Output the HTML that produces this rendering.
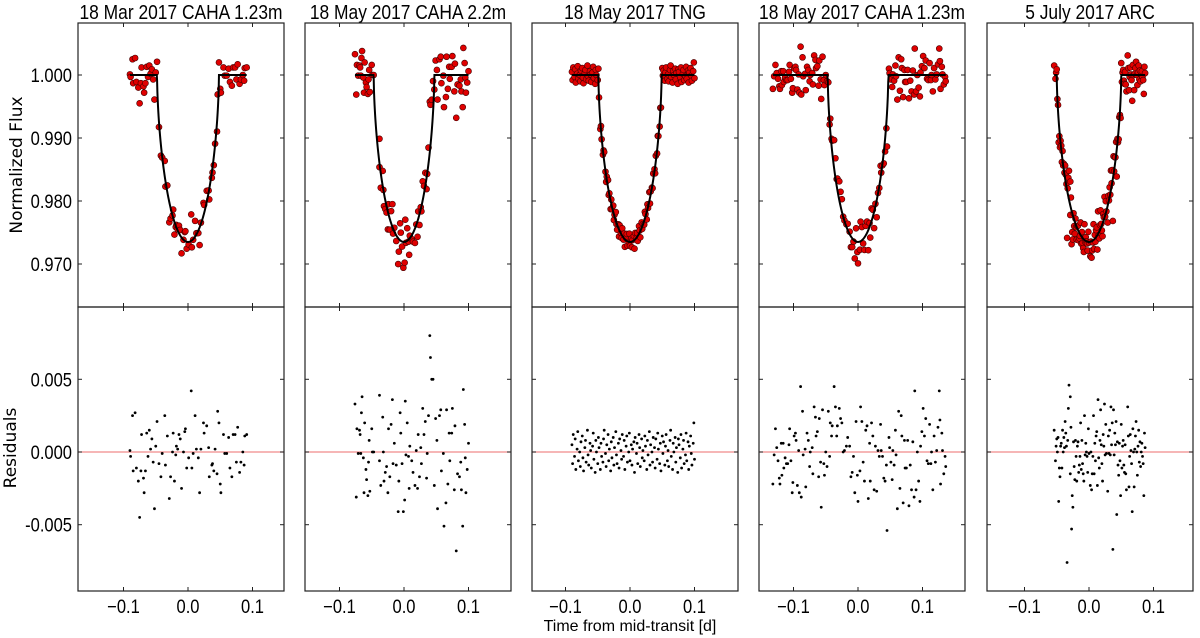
<!DOCTYPE html>
<html><head><meta charset="utf-8"><style>
html,body{margin:0;padding:0;background:#fff;}
svg{display:block;font-family:"Liberation Sans",sans-serif;}
</style></head><body>
<svg id="chart" width="1200" height="638" viewBox="0 0 1200 638" xmlns="http://www.w3.org/2000/svg"></svg>
<script>
// ---------- data ----------
const panelTitles = ["18 Mar 2017 CAHA 1.23m","18 May 2017 CAHA 2.2m","18 May 2017 TNG","18 May 2017 CAHA 1.23m","5 July 2017 ARC"];
const xTickValues = [-0.1, 0.0, 0.1];
const xTickLabels = ["\u22120.1","0.0","0.1"];
const fluxTickValues = [1.000, 0.990, 0.980, 0.970];
const fluxTickLabels = ["1.000","0.990","0.980","0.970"];
const resTickValues = [0.005, 0.000, -0.005];
const resTickLabels = ["0.005","0.000","-0.005"];
// model parameters: half-duration (d) and depth
const modelHalfDur = [0.048, 0.047, 0.049, 0.047, 0.050];
const modelDepth = [0.0265, 0.0265, 0.0265, 0.0265, 0.0265];
// times in 1e-3 d, residuals in 1e-4
const t1 = [-90,-86,-82,-89,-85,-80,-77,-75,-73,-72,-69,-68,-66,-64,-62,-60,-58,-56,-54,-52,-50,-48,-45,-42,-40,-36,-35,-32,-29,-27,-24,-23,-21,-19,-18,-16,-14,-12,-10,-7,-5,-4,-2,1,5,6,8,11,13,16,18,20,
 24,25,29,32,33,37,38,40,42,45,46,48,50,51,55,57,60,63,65,68,70,73,75,77,80,82,85,87,88,91];
const r1 = [1,25,27,-3,-13,-11,-20,-45,-13,12,-18,-28,-13,13,-3,15,2,9,-7,-39,4,21,-8,-17,-1,25,-9,11,-32,-17,0,13,-20,-2,4,2,12,9,-25,0,14,16,-11,-4,42,-11,-1,25,2,-4,-28,2,
 20,13,18,3,-17,-9,-8,-13,2,-15,28,20,-22,-28,12,-1,-1,10,-11,-17,12,12,-7,17,-14,-7,0,-9,11,12];
const t2 = [-76,-74,-73,-71,-69,-68,-67,-66,-65,-63,-62,-61,-59,-58,-56,-55,-54,-53,-50,-49,-47,-38,-38,-36,-33,-32,-31,-29,-27,-25,-24,-22,-20,-18,-17,-15,-12,-9,-8,-6,-5,-3,-1,1,2,3,5,7,8,9,12,14,17,19,21,22,24,26,27,29,31,33,35,36,38,40,41,43,45,47,49,51,52,55,57,58,61,62,65,66,68,70,71,74,75,78,79,81,83,86,88,89,91,92,94,95,96,98,100];
const r2 = [33,-31,16,-1,15,12,-1,27,38,-4,-28,20,-12,-19,-30,-7,8,-27,16,0,0,39,-6,-23,24,0,-20,-14,-10,-28,16,-17,19,36,-8,6,-9,-41,-20,27,13,-8,-41,-33,35,-2,20,-3,-25,4,-6,-14,-23,1,-25,12,-17,3,-8,30,12,21,-18,-1,25,80,65,50,50,-23,23,8,-39,25,29,-13,-1,-51,-35,29,-22,13,-6,13,30,-26,18,-68,-15,-17,-7,-26,-51,43,19,-4,-28,-12,6];
const t3 = [-90,-89,-88,-86,-85,-84,-82,-81,-80,-78,-77,-76,
 -74,-73,-72,-70,-69,-68,-66,-65,-64,-62,-61,-60,
 -58,-57,-56,-54,-53,-52,-50,-49,-48,-46,-45,-44,
 -42,-41,-40,-38,-37,-36,-34,-33,-32,-30,-29,-28,
 -26,-25,-24,-22,-21,-20,-18,-17,-16,-14,-13,-12,
 -10,-9,-8,-6,-5,-4,-2,-1,0,2,3,4,
 6,7,8,10,11,12,14,15,16,18,19,20,
 22,23,24,26,27,28,30,31,32,34,35,36,
 38,39,40,42,43,44,46,47,48,50,51,52,
 54,55,56,58,59,60,62,63,64,66,67,68,
 70,71,72,74,75,76,78,79,80,82,83,84,
 86,87,88,90,91,92,94,95,96,98,99,100];
const r3 = [5,-8,12,-3,9,-12,2,14,-6,0,-10,7,
 11,-4,-13,3,8,-7,15,-2,-9,6,1,-11,
 4,13,-5,-14,8,0,-8,10,3,-12,6,-3,
 -7,9,15,-1,-10,5,12,-6,2,-13,7,-4,
 10,-9,3,14,-2,-8,6,-11,9,1,-5,12,
 -3,8,-12,4,11,-7,0,13,-6,5,-9,2,
 7,-14,10,-1,6,-8,12,3,-10,9,-4,1,
 -6,11,4,-12,8,-2,14,-9,5,0,-7,10,
 3,-11,9,-5,13,2,-8,6,-13,11,-1,7,
 -9,4,12,-6,1,-10,8,15,-3,-12,6,0,
 10,-7,3,-14,9,5,-4,12,-11,2,8,-8,
 -2,13,-6,7,-12,4,11,-1,-9,6,20,-5];
const t4 = [-132,-130,-128,-126,-124,-122,-121,-119,-118,-116,-115,-113,-111,-109,-107,-106,-104,-102,-101,-99,-97,-96,-94,-92,-91,-89,-88,-86,-85,-82,-81,-79,-77,-75,-74,-71,-70,-68,-66,-65,-63,-61,-60,-58,-57,-55,-53,-52,-50,-48,-46,-44,-43,-41,-40,-37,-35,-33,-32,-29,-27,-25,-23,-21,-18,-16,-13,-11,-9,-7,-5,-3,-1,0,3,4,6,8,10,12,14,16,18,19,21,23,25,27,29,31,33,35,36,38,40,42,44,45,48,49,51,53,54,56,58,59,61,63,65,67,68,70,72,73,75,77,79,81,83,85,87,88,90,92,94,96,97,99,101,103,105,107,109,111,113,114,116,118,120,122,124,126,127,128,130,131,133,135,136];
const r4 = [-22,-2,16,3,-6,-18,-22,6,-16,6,-11,-4,-8,-8,5,16,-6,-28,-21,11,13,8,-23,1,-28,45,-31,28,-2,2,-24,13,8,-10,0,3,-15,31,24,11,14,-17,23,-7,-38,29,-8,-16,0,-10,28,-3,20,11,18,45,31,11,18,30,23,20,0,1,4,10,4,-17,-14,-3,-28,21,-16,-34,-13,31,21,-7,-20,15,18,-32,6,-20,20,11,-26,4,-27,1,-3,19,1,-3,-18,-20,-9,-54,10,3,-7,-19,1,-9,15,-2,-39,28,-25,25,11,-35,8,-11,-11,8,-37,-9,-26,7,-31,42,-26,0,-20,-34,4,14,30,11,23,-6,-8,19,-8,0,-26,11,-7,1,17,42,22,-22,13,1,-15,-3,-10];
const t5 = [-54,-52,-51,-50,-49,-48,-47,-46,-45,-44,-43,-42,-41,-40,-39,-38,-37,-36,-35,-34,-33,-32,-31,-29,-29,-28,-27,-26,-25,-24,-23,-22,-21,-20,-19,-18,-17,-16,-15,-14,-13,-12,-11,-10,-9,-8,-7,-6,-5,-4,-3,-2,-1,0,2,3,4,5,6,7,8,9,10,11,12,13,14,15,16,17,18,19,20,21,22,23,24,25,26,27,29,30,31,32,33,34,35,36,37,38,39,40,41,42,43,44,45,46,47,48,49,50,51,52,53,54,55,56,57,58,60,61,62,63,64,65,66,67,68,69,70,71,72,73,74,75,76,77,78,79,80,81,82,83,84,85,86,87];
const r5 = [15,-6,4,9,0,10,-34,-11,-17,4,6,-11,15,0,10,3,21,13,4,-76,8,30,46,38,-15,17,-53,-30,-38,7,-10,-19,8,-3,-20,4,7,-14,-9,-3,20,-12,8,-8,-15,-20,25,-2,6,0,-3,-14,16,-1,-23,0,-26,-15,-3,25,-15,6,-6,11,14,-23,36,-4,-11,8,29,5,-8,-20,12,4,33,-2,19,-1,-27,11,-1,15,-2,31,5,20,-67,29,-2,13,5,21,-43,7,-9,-16,6,-6,-30,19,-11,4,8,-9,-14,5,-15,-26,31,11,-24,-3,12,1,-8,-41,16,0,-24,2,11,21,0,-16,4,15,-7,7,-10,0,6,-3,-8,-30,13,3];
const allTimes = [t1, t2, t3, t4, t5];
const allResid = [r1, r2, r3, r4, r5];

// ---------- layout ----------
const NS = "http://www.w3.org/2000/svg";
const svg = document.getElementById("chart");
const panelLeft = [78, 305, 532, 759, 987];
const panelZero = [188, 404, 630, 858, 1089];
const panelW = 206;
const pxPerDay = 645;
const topY0 = 23, midY = 307, botY = 591;
const SX = 0.87;
function xScale(p, t){ return panelZero[p] + t * pxPerDay; }
function yFlux(f){ return 75 + (1.000 - f) * 6300; }
function yRes(r){ return 452 - r * 14540; }
function model(p, t){
  const z = Math.abs(t) / modelHalfDur[p];
  if (z >= 1) return 1;
  return 1 - modelDepth[p] * Math.pow(1 - z*z, 0.6);
}
function mk(tag, attrs, parent){
  const e = document.createElementNS(NS, tag);
  for (const k in attrs) e.setAttribute(k, attrs[k]);
  (parent || svg).appendChild(e);
  return e;
}
function condText(parent, x, y, size, anchor, str){
  const t = mk("text", {x: x / SX, y: y, transform: "scale(" + SX + ",1)", "text-anchor": anchor, "font-size": size, fill: "#000"}, parent);
  t.textContent = str;
  return t;
}

for (let p = 0; p < 5; p++){
  const g = mk("g", {});
  
  
  const L = panelLeft[p], R = L + panelW;
  const title = condText(g, L + panelW/2, 19, 20, "middle", panelTitles[p]);
  
  

  const zl = mk("line", {x1:L, x2:R, y1:yRes(0), y2:yRes(0), stroke:"#f08a8a", "stroke-width":"1.2"}, g);
  
  

  const ts = allTimes[p], rs = allResid[p];
  const n = Math.min(ts.length, rs.length);
  let tmin = Infinity, tmax = -Infinity;
  for (let i = 0; i < n; i++){ tmin = Math.min(tmin, ts[i]/1000); tmax = Math.max(tmax, ts[i]/1000); }

  const fg = mk("g", {}, g);
  
  
  for (let i = 0; i < n; i++){
    const t = ts[i]/1000, r = rs[i]/10000;
    const c = mk("circle", {cx: xScale(p,t), cy: yFlux(model(p,t) + r), r: 3, fill:"#e00000", stroke:"#400", "stroke-width":"0.6"}, fg);
    
    
  }
  let d = "";
  for (let k = 0; k <= 400; k++){
    const t = tmin + (tmax - tmin) * k / 400;
    d += (k ? "L" : "M") + xScale(p,t).toFixed(2) + "," + yFlux(model(p,t)).toFixed(2);
  }
  const ml = mk("path", {d: d, fill:"none", stroke:"#000", "stroke-width":"2"}, g);
  
  

  const rg = mk("g", {}, g);
  
  
  for (let i = 0; i < n; i++){
    const c = mk("circle", {cx: xScale(p, ts[i]/1000), cy: yRes(rs[i]/10000), r: 1.4, fill:"#000"}, rg);
    
    
  }

  const f1 = mk("rect", {x:L, y:topY0, width:panelW, height:midY-topY0, fill:"none", stroke:"#222", "stroke-width":"1.2"}, g);
  
  
  const f2 = mk("rect", {x:L, y:midY, width:panelW, height:botY-midY, fill:"none", stroke:"#222", "stroke-width":"1.2"}, g);
  
  

  for (let k = 0; k < xTickValues.length; k++){
    const x = xScale(p, xTickValues[k]);
    [[topY0,1],[midY,-1],[midY,1],[botY,-1]].forEach(([y,s]) => {
      const tk = mk("line", {x1:x, x2:x, y1:y, y2:y + s*4, stroke:"#222", "stroke-width":"1"}, g);
      
      
    });
    const lb = condText(g, x, 613, 19, "middle", xTickLabels[k]);
    
    
  }
  for (let k = 0; k < fluxTickValues.length; k++){
    const y = yFlux(fluxTickValues[k]);
    [[L,1],[R,-1]].forEach(([x,s]) => {
      const tk = mk("line", {x1:x, x2:x + s*4, y1:y, y2:y, stroke:"#222", "stroke-width":"1"}, g);
      
      
    });
    if (p === 0){
      const lb = condText(g, 72, y+7, 19, "end", fluxTickLabels[k]);
      
      
    }
  }
  for (let k = 0; k < resTickValues.length; k++){
    const y = yRes(resTickValues[k]);
    [[L,1],[R,-1]].forEach(([x,s]) => {
      const tk = mk("line", {x1:x, x2:x + s*4, y1:y, y2:y, stroke:"#222", "stroke-width":"1"}, g);
      
      
    });
    if (p === 0){
      const lb = condText(g, 72, y+7, 19, "end", resTickLabels[k]);
      
      
    }
  }
}
const yt1 = mk("text", {x:0, y:0, transform:"translate(22,165) rotate(-90)", "text-anchor":"middle", "font-size":"17", "font-family":"DejaVu Sans, sans-serif", fill:"#000"});
yt1.textContent = "Normalized Flux";


const yt2 = mk("text", {x:0, y:0, transform:"translate(16,448) rotate(-90)", "text-anchor":"middle", "font-size":"17", "font-family":"DejaVu Sans, sans-serif", fill:"#000"});
yt2.textContent = "Residuals";


const xt = mk("text", {x:630, y:631, "text-anchor":"middle", "font-size":"16", fill:"#000"});
xt.textContent = "Time from mid-transit [d]";


</script>
</body></html>
